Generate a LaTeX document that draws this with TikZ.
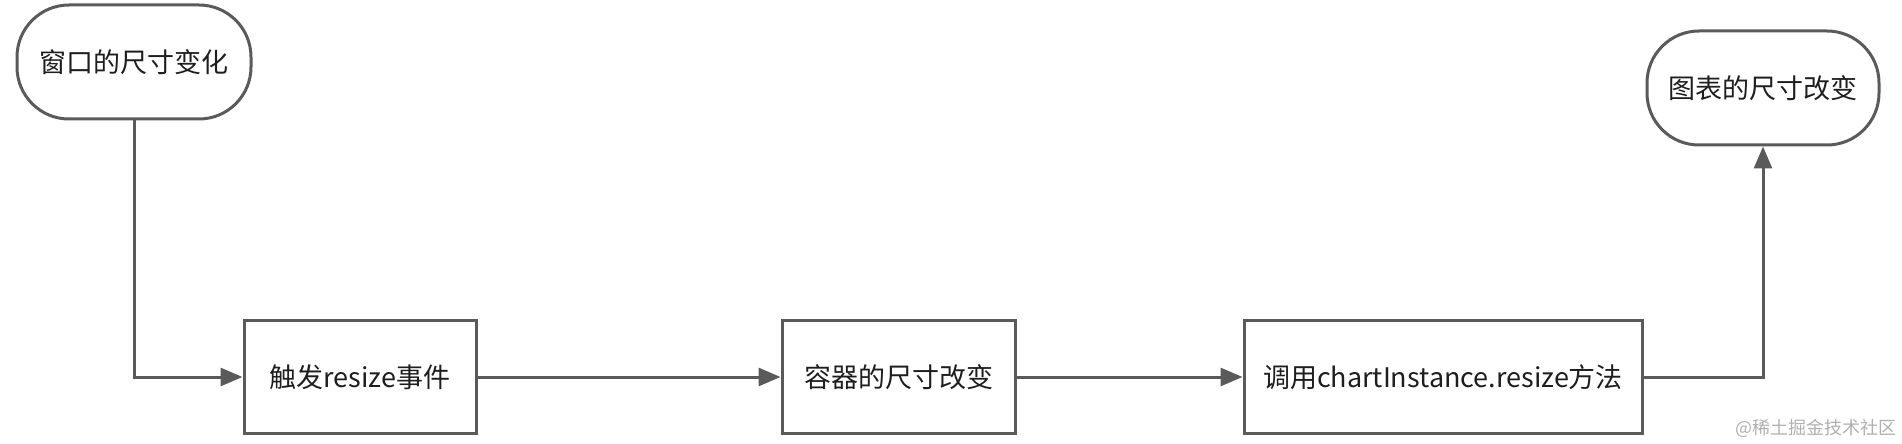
\documentclass[tikz,border=0pt]{standalone}
\usepackage{fontspec}
\setmainfont{Noto Sans CJK SC}
\newfontfamily\cjk{Noto Sans CJK SC}
\usetikzlibrary{positioning,arrows.meta}
\definecolor{linegray}{HTML}{5A5A5A}
\definecolor{textgray}{HTML}{1E1E1E}
\definecolor{markgray}{HTML}{B0B0B0}

\begin{document}
\begin{tikzpicture}[
  x=0.5pt, y=-0.5pt,
  term/.style={draw=linegray, line width=1.5pt, rounded corners=26pt, align=center, font=\cjk\fontsize{13.5}{16}\selectfont, text=textgray, minimum width=117pt, minimum height=57pt, inner sep=0pt},
  box/.style={draw=linegray, line width=1.5pt, align=center, font=\cjk\fontsize{13.5}{16}\selectfont, text=textgray, minimum height=56.5pt, inner sep=0pt},
  arr/.style={-{Triangle[length=11pt, width=9pt]}, draw=linegray, line width=1.5pt},
  wmark/.style={font=\cjk\fontsize{9}{11}\selectfont, text=markgray, inner sep=0pt}
]
\useasboundingbox (0,0) rectangle (1902,444);
\node[term] (win) at (134,62) {窗口的尺寸变化};
\node[box, minimum width=116pt] (evt) at (360,377) {触发resize事件};
\node[box, minimum width=116.5pt, right=151.5pt of evt] (cont) {容器的尺寸改变};
\node[box, minimum width=199pt, right=113pt of cont] (call) {调用chartInstance.resize方法};
\node[term, minimum width=116pt] (chart) at (1763,88) {图表的尺寸改变};
\draw[arr] (win) |- (evt);
\draw[arr] (evt) -- (cont);
\draw[arr] (cont) -- (call);
\draw[arr] (call) -| (chart);
% watermark
\node[wmark, anchor=east] (wm) at (1897,428) {@稀土掘金技术社区};
\end{tikzpicture}
\end{document}
